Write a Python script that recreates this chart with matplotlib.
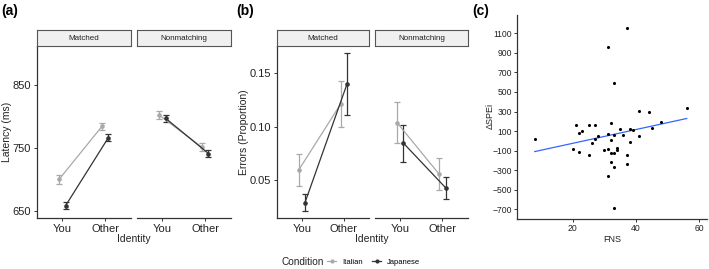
import numpy as np
import matplotlib
matplotlib.use("Agg")
import matplotlib.pyplot as plt
from matplotlib.lines import Line2D

plt.rcParams['font.family'] = ['Liberation Sans', 'DejaVu Sans']

W, H = 709, 269

# ---------------- data ----------------
identity = ["You", "Other"]
facets = ["Matched", "Nonmatching"]
conditions = ["Italian", "Japanese"]

# Panel (a) latency (ms): [facet][identity]
lat_italian = [[700, 784], [802, 751]]
lat_italian_se = [[7.5, 6.3], [6.0, 6.5]]
lat_japanese = [[658, 766], [797, 741]]
lat_japanese_se = [[6.0, 5.8], [5.6, 6.0]]

# Panel (b) error proportions: [facet][identity]
err_italian = [[0.0595, 0.121], [0.1035, 0.0555]]
err_italian_se = [[0.0148, 0.021], [0.019, 0.0148]]
err_japanese = [[0.0292, 0.1395], [0.0845, 0.0430]]
err_japanese_se = [[0.0077, 0.029], [0.0173, 0.0103]]

# Panel (c) scatter
fns = [8, 37, 31, 33, 41, 44, 56, 21, 25, 27, 22, 23, 32, 28, 31, 33, 35, 36,
       38, 39, 45, 48, 27, 26, 32, 38, 41, 20, 22, 25, 30, 31, 34, 34, 32, 33,
       37, 32, 37, 33, 31, 33]
dspei = [20, 1150, 960, 590, 310, 290, 335, 165, 162, 159, 84, 101, 186, 50,
         73, 63, 121, 57, 121, 108, 135, 190, 16, -19, 6, -11, 47, -83, -111,
         -148, -93, -86, -76, -90, -127, -127, -141, -216, -233, -267, -362,
         -689]

col_it = "#a9a9a9"
col_jp = "#333333"
dodge = 0.075

fig = plt.figure(figsize=(W / 100, H / 100), dpi=100)


def ax_px(l, t, r, b):
    return fig.add_axes([l / W, 1 - b / H, (r - l) / W, (b - t) / H])


def style_facet(ax, left_axis):
    for s in ["top", "right"]:
        ax.spines[s].set_visible(False)
    ax.spines["left"].set_visible(left_axis)
    ax.spines["bottom"].set_color("#333333")
    ax.spines["left"].set_color("#333333")
    ax.spines["bottom"].set_linewidth(0.9)
    ax.spines["left"].set_linewidth(0.9)
    ax.tick_params(axis="both", length=2.5, width=0.7, color="#333333",
                   labelsize=8, labelcolor="#222222", pad=1.5)
    if not left_axis:
        ax.tick_params(axis="y", left=False, labelleft=False)


def strip(l, t, r, b, text):
    sa = ax_px(l, t, r, b)
    sa.set_facecolor("#f0f0f0")
    for s in sa.spines.values():
        s.set_color("#555555")
        s.set_linewidth(0.8)
    sa.set_xticks([])
    sa.set_yticks([])
    sa.text(0.5, 0.47, text, ha="center", va="center", fontsize=5.8,
            color="#222222", transform=sa.transAxes)


def draw_panel(lefts, rights, top, bottom, it, it_se, jp, jp_se, ylim, yticks,
               yticklabels, ylabel, letter, letter_x, ylabel_x):
    xpos = np.arange(1, len(identity) + 1)
    for k, f in enumerate(facets):
        ax = ax_px(lefts[k], top, rights[k], bottom)
        for vals, se, col, off in [(it[k], it_se[k], col_it, -dodge),
                                   (jp[k], jp_se[k], col_jp, dodge)]:
            ax.errorbar(xpos + off, vals, yerr=se, color=col, lw=0.9,
                        capsize=2.0, capthick=0.9, marker="o", markersize=2.3,
                        zorder=3)
        ax.set_xlim(0.4, 2.6)
        ax.set_ylim(*ylim)
        ax.set_xticks(xpos)
        ax.set_xticklabels(identity)
        ax.set_yticks(yticks)
        ax.set_yticklabels(yticklabels)
        style_facet(ax, k == 0)
        ax.set_facecolor("none")
        strip(lefts[k], 30, rights[k], 46, f)
    fig.text(ylabel_x / W, 1 - (top + bottom) / 2 / H, ylabel, rotation=90,
             ha="center", va="center", fontsize=7.5, color="#222222")
    fig.text((lefts[0] + rights[1]) / 2 / W, 1 - 239 / H, "Identity",
             ha="center", va="center", fontsize=7.5, color="#222222")
    fig.text(letter_x / W, 1 - 11 / H, letter, ha="left", va="center",
             fontsize=10, fontweight="bold")


draw_panel([36.7, 136.7], [130.7, 231.0], 46, 218.3,
           lat_italian, lat_italian_se, lat_japanese, lat_japanese_se,
           (638, 912), [650, 750, 850], ["650", "750", "850"],
           "Latency (ms)", "(a)", 1, 7)

draw_panel([276.7, 375.0], [369.0, 467.7], 46, 218.3,
           err_italian, err_italian_se, err_japanese, err_japanese_se,
           (0.0145, 0.175), [0.05, 0.10, 0.15], ["0.05", "0.10", "0.15"],
           "Errors (Proportion)", "(b)", 236, 244)

# ---------------- panel (c) ----------------
axc = ax_px(517.3, 15, 706.7, 218.7)
axc.scatter(fns, dspei, s=5, color="black", zorder=3, linewidths=0)
coef = np.polyfit(fns, dspei, 1)
xs = np.array([min(fns), max(fns)])
axc.plot(xs, np.polyval(coef, xs), color="#3366FF", lw=0.9, zorder=2)
axc.set_xlim(2.5, 62.3)
axc.set_ylim(-796, 1287)
axc.set_xticks([20, 40, 60])
yt = list(range(-700, 1101, 200))
axc.set_yticks(yt)
for s in ["top", "right"]:
    axc.spines[s].set_visible(False)
for s in ["left", "bottom"]:
    axc.spines[s].set_color("#333333")
    axc.spines[s].set_linewidth(0.9)
axc.tick_params(axis="both", length=2.5, width=0.7, color="#333333",
                labelsize=6.2, labelcolor="#222222", pad=1.5)
axc.set_xlabel("FNS", fontsize=6.5, color="#222222", labelpad=1)
fig.text(490 / W, 1 - 116 / H, "ΔSPEi", rotation=90, ha="center",
         va="center", fontsize=6.5, color="#222222")
fig.text(472 / W, 1 - 11 / H, "(c)", ha="left", va="center", fontsize=10,
         fontweight="bold")

# ---------------- legend ----------------
fig.text(282 / W, 1 - 262 / H, "Condition", ha="left", va="center",
         fontsize=7.2, color="#222222")
handles = [Line2D([], [], color=col_it, marker="o", markersize=2, lw=0.9),
           Line2D([], [], color=col_jp, marker="o", markersize=2, lw=0.9)]
fig.legend(handles, conditions, loc="center left",
           bbox_to_anchor=(327 / W, 1 - 262 / H), ncol=2, frameon=False,
           fontsize=5.5, handlelength=1.2, handletextpad=0.8,
           columnspacing=1.2, borderpad=0, borderaxespad=0)

fig.savefig("out.png", dpi=100)
